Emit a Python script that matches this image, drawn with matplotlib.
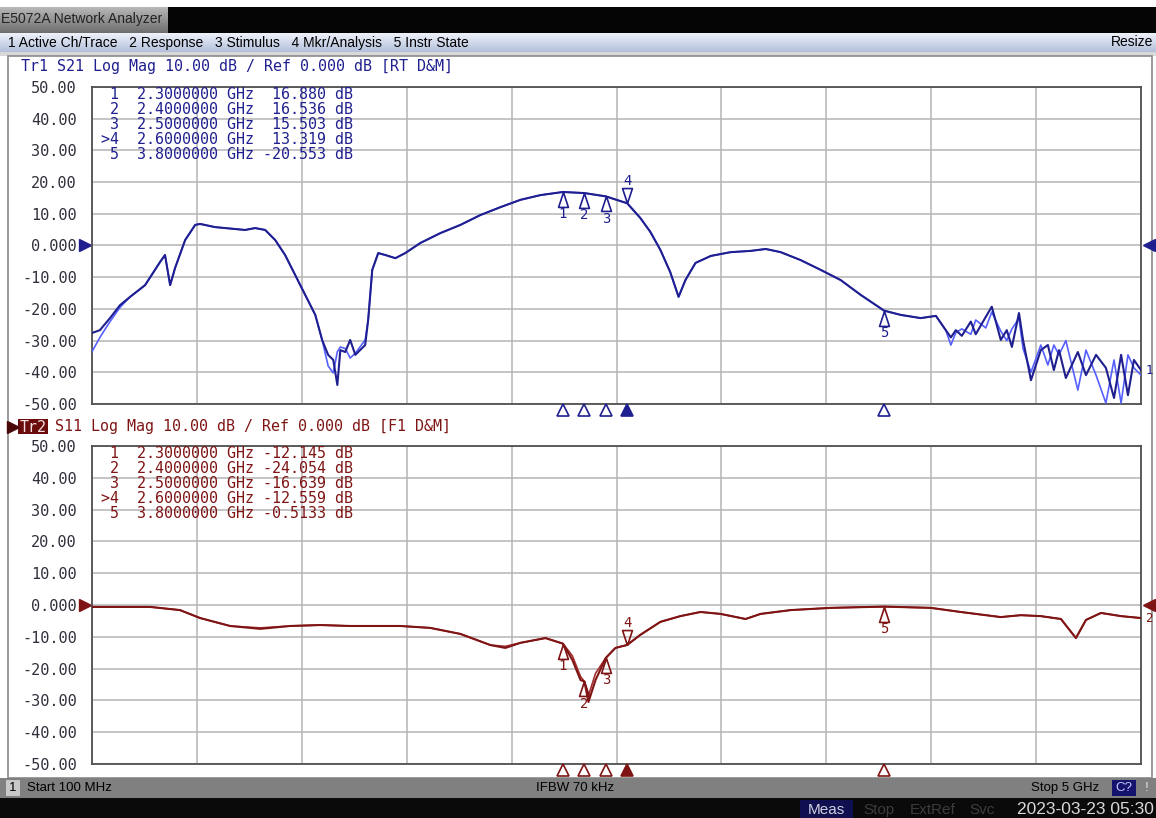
import numpy as np
import matplotlib
matplotlib.use('Agg')
import matplotlib.pyplot as plt
import matplotlib.transforms as mtransforms
from matplotlib.path import Path
from matplotlib.patches import Rectangle
from matplotlib.colors import LinearSegmentedColormap

# S21 trace, data and memory (GHz / dB)
s21_freq = [0.10, 0.137, 0.184, 0.231, 0.278, 0.348, 0.418, 0.441, 0.465, 0.488,
            0.535, 0.582, 0.605, 0.675, 0.769, 0.815, 0.862, 0.909, 0.956, 1.002,
            1.049, 1.096, 1.143, 1.175, 1.203, 1.227, 1.246, 1.260, 1.283, 1.306,
            1.330, 1.376, 1.390, 1.409, 1.437, 1.470, 1.517, 1.563, 1.634, 1.727,
            1.821, 1.914, 2.008, 2.101, 2.195, 2.30, 2.40, 2.50, 2.60, 2.661,
            2.708, 2.755, 2.801, 2.840, 2.872, 2.919, 2.990, 3.083, 3.177, 3.247,
            3.317, 3.410, 3.504, 3.597, 3.691, 3.80, 3.878, 3.971, 4.042, 4.088,
            4.112, 4.135, 4.163, 4.205, 4.228, 4.275, 4.303, 4.345, 4.373, 4.397,
            4.430, 4.449, 4.486, 4.532, 4.565, 4.593, 4.617, 4.649, 4.705, 4.743,
            4.790, 4.836, 4.874, 4.907, 4.939, 4.967, 5.00]
s21_data = [-27.6, -26.7, -22.9, -18.8, -16.2, -12.5, -5.2, -3.0, -12.5, -7.1,
            1.7, 6.5, 6.8, 5.8, 5.2, 4.9, 5.5, 4.9, 1.7, -3.0,
            -9.3, -15.6, -21.9, -29.8, -34.5, -36.1, -44.0, -33.0, -33.6, -29.8,
            -34.5, -31.4, -23.5, -7.7, -2.4, -3.0, -4.0, -2.4, 0.8, 3.9,
            6.5, 9.6, 12.1, 14.4, 15.9, 16.88, 16.54, 15.50, 13.32, 8.7,
            4.3, -1.4, -8.4, -16.2, -10.9, -5.5, -3.3, -2.1, -1.7, -1.1,
            -2.1, -4.6, -7.7, -10.9, -15.6, -20.55, -21.9, -22.9, -22.2, -26.7,
            -29.0, -26.7, -28.5, -24.0, -28.0, -22.5, -19.3, -29.8, -26.7, -32.0,
            -21.3, -29.8, -42.5, -33.0, -31.4, -39.3, -33.0, -41.8, -33.6, -40.9,
            -34.5, -38.6, -48.1, -34.5, -47.2, -36.1, -39.3]
s21_mem = [-33.5, -29.0, -24.0, -19.5, -16.2, -12.5, -5.2, -3.0, -12.5, -7.1,
           1.7, 6.5, 6.8, 5.8, 5.2, 4.9, 5.5, 4.9, 1.7, -3.0,
           -9.3, -15.6, -21.9, -29.8, -38.0, -40.2, -33.5, -32.0, -32.5, -35.5,
           -34.0, -29.8, -23.5, -7.7, -2.4, -3.0, -4.0, -2.4, 0.8, 3.9,
           6.5, 9.6, 12.1, 14.4, 15.9, 16.88, 16.54, 15.50, 13.32, 8.7,
           4.3, -1.4, -8.4, -16.2, -10.9, -5.5, -3.3, -2.1, -1.7, -1.1,
           -2.1, -4.6, -7.7, -10.9, -15.6, -20.55, -21.9, -22.9, -22.2, -26.7,
           -31.4, -27.5, -26.3, -28.0, -23.5, -26.0, -21.0, -27.0, -30.0, -26.3,
           -23.0, -32.5, -40.0, -31.4, -37.7, -31.4, -34.5, -30.0, -45.6, -33.0,
           -40.9, -49.7, -36.1, -49.7, -34.5, -38.6, -40.9]

# S11 trace, data and memory (GHz / dB)
s11_freq = [0.10, 0.371, 0.511, 0.605, 0.745, 0.886, 1.026, 1.166, 1.306, 1.540,
            1.680, 1.821, 1.961, 2.031, 2.101, 2.218, 2.30, 2.344, 2.382, 2.40,
            2.419, 2.452, 2.50, 2.545, 2.60, 2.661, 2.755, 2.848, 2.942, 3.036,
            3.153, 3.223, 3.364, 3.551, 3.80, 4.018, 4.158, 4.345, 4.439, 4.532,
            4.626, 4.696, 4.743, 4.813, 4.907, 5.00]
s11_data = [-0.6, -0.6, -1.6, -4.1, -6.6, -7.5, -6.6, -6.3, -6.6, -6.6,
            -7.2, -9.1, -12.6, -13.5, -11.9, -10.4, -12.15, -17.3, -23.6, -24.05,
            -30.5, -23.6, -16.64, -13.5, -12.56, -9.4, -5.3, -3.5, -2.2, -2.8,
            -4.4, -2.8, -1.6, -0.9, -0.51, -0.9, -2.2, -3.8, -3.2, -3.5,
            -4.4, -10.4, -4.7, -2.5, -3.5, -4.1]
s11_mem = [-0.6, -0.6, -1.6, -4.1, -6.6, -7.2, -6.6, -6.3, -6.6, -6.6,
           -7.2, -9.1, -12.6, -13.0, -11.9, -10.4, -12.15, -16.0, -22.5, -24.05,
           -28.5, -21.5, -16.64, -13.5, -12.56, -9.4, -5.3, -3.5, -2.2, -2.8,
           -4.4, -2.8, -1.6, -0.9, -0.51, -0.9, -2.2, -3.8, -3.2, -3.5,
           -4.4, -10.4, -4.7, -2.5, -3.5, -4.1]

# markers
mkr_names = ['1', '2', '3', '>4', '5']
mkr_freq = [2.3, 2.4, 2.5, 2.6, 3.8]
mkr_freq_txt = ['2.3000000', '2.4000000', '2.5000000', '2.6000000', '3.8000000']
s21_mkr = [16.880, 16.536, 15.503, 13.319, -20.553]
s21_mkr_txt = ['16.880', '16.536', '15.503', '13.319', '-20.553']
s11_mkr = [-12.145, -24.054, -16.639, -12.559, -0.5133]
s11_mkr_txt = ['-12.145', '-24.054', '-16.639', '-12.559', '-0.5133']

yticks = [50, 40, 30, 20, 10, 0, -10, -20, -30, -40, -50]
ytick_txt = ['50.00', '40.00', '30.00', '20.00', '10.00', '0.000',
             '-10.00', '-20.00', '-30.00', '-40.00', '-50.00']

W, H = 1156, 818
mono = 'DejaVu Sans Mono'
ui = ['Liberation Sans', 'DejaVu Sans']

navy = '#1f1f8f'
navy_mem = '#5560ff'
red = '#7f1414'
red_mem = '#a33030'


def box(x0, y0, x1, y1):
    return [x0 / W, 1 - y1 / H, (x1 - x0) / W, (y1 - y0) / H]


def grad(ax, x0, y0, x1, y1, c_top, c_bot):
    cm = LinearSegmentedColormap.from_list('g', [c_top, c_bot])
    ax.imshow(np.linspace(0, 1, 50)[:, None], cmap=cm, aspect='auto',
              extent=(x0, x1, y1, y0), origin='upper', zorder=1)


fig = plt.figure(figsize=(W / 100, H / 100), dpi=100)

# window chrome
bg = fig.add_axes([0, 0, 1, 1], zorder=0)
bg.set_xlim(0, W)
bg.set_ylim(H, 0)
bg.set_autoscale_on(False)
bg.axis('off')

bg.add_patch(Rectangle((0, 7), W, 26, facecolor='#050505', zorder=1))
grad(bg, 0, 7, 168, 33, '#b8b8b8', '#6e6e6e')
bg.text(1, 19, 'E5072A Network Analyzer', fontsize=10, family=ui,
        color='#222222', va='center', zorder=3)
grad(bg, 0, 33, W, 52, '#eef2fa', '#b3c0db')
bg.text(8, 42.5, '1 Active Ch/Trace   2 Response   3 Stimulus   4 Mkr/Analysis   5 Instr State',
        fontsize=10, family=ui, color='black', va='center', zorder=3)
bg.text(1153, 42.5, 'Resize', fontsize=10, family=ui, color='black',
        va='center', ha='right', zorder=3)
bg.add_patch(Rectangle((0, 52), W, 4, facecolor='#d8d8d8', zorder=1))
bg.add_patch(Rectangle((8, 56), 1144, 722, facecolor='white',
                       edgecolor='#8a8a8a', lw=1.2, zorder=1))

# status bar
bg.add_patch(Rectangle((0, 778), W, 20, facecolor='#808080', zorder=1))
bg.add_patch(Rectangle((6, 780), 14, 16, facecolor='#c8c8c8', zorder=2))
bg.text(9, 788, '1', fontsize=9.5, family=ui, va='center', zorder=3)
bg.text(27, 788, 'Start 100 MHz', fontsize=9.5, family=ui, va='center', zorder=3)
bg.text(575, 788, 'IFBW 70 kHz', fontsize=9.5, family=ui, va='center', ha='center', zorder=3)
bg.text(1099, 788, 'Stop 5 GHz', fontsize=9.5, family=ui, va='center', ha='right', zorder=3)
bg.add_patch(Rectangle((1112, 780), 24, 16, facecolor='#14146e', zorder=2))
bg.text(1124, 788, 'C?', fontsize=9.5, family=ui, color='#c8c8ff', va='center',
        ha='center', zorder=3)
bg.text(1147, 788, '!', fontsize=9.5, family=ui, color='#e0e0e0', va='center',
        ha='center', zorder=3)

bg.add_patch(Rectangle((0, 798), W, 20, facecolor='#0a0a0a', zorder=1))
bg.add_patch(Rectangle((800, 800), 53, 18, facecolor='#101050', zorder=2))
bg.text(826, 810, 'Meas', fontsize=11, family=ui, color='#d0d0e0', va='center',
        ha='center', zorder=3)
for xs, s in [(879, 'Stop'), (933, 'ExtRef'), (982, 'Svc')]:
    bg.text(xs, 810, s, fontsize=11, family=ui, color='#3c3c3c', va='center',
            ha='center', zorder=3)
bg.text(1154, 810, '2023-03-23 05:30', fontsize=12.5, family=ui, color='#d8d8d8',
        va='center', ha='right', zorder=3)

# trace headers
bg.text(21, 67, 'Tr1 S21 Log Mag 10.00 dB / Ref 0.000 dB [RT D&M]', fontsize=10.8,
        family=mono, color=navy, va='center', zorder=3)
bg.plot([12.5], [426.5], marker='>', ms=8, color='#4a0808', zorder=3)
bg.add_patch(Rectangle((18, 419), 30, 15, facecolor='#6a0c0c', zorder=2))
bg.text(19.5, 427, 'Tr2', fontsize=10.8, family=mono, color='#f2dede', va='center', zorder=3)
bg.text(55, 426, 'S11 Log Mag 10.00 dB / Ref 0.000 dB [F1 D&M]', fontsize=10.8,
        family=mono, color=red, va='center', zorder=3)

# tall triangles for the markers, apex on the trace
up_tri = Path([(0, 0), (-0.33, -1), (0.33, -1), (0, 0)])
dn_tri = Path([(0, 0), (-0.33, 1), (0.33, 1), (0, 0)])


def draw_panel(ax, freq, data, mem, col, col_mem, mkr_val, mkr_txt, trace_no):
    ax.set_zorder(2)
    ax.set_facecolor('white')
    ax.plot(freq, mem, color=col_mem, lw=1.2, zorder=3)
    ax.plot(freq, data, color=col, lw=1.5, zorder=4)
    ax.set_xlim(0.1, 5.0)
    ax.set_ylim(-50, 50)
    ax.set_xticks(np.linspace(0.1, 5.0, 11))
    ax.set_xticklabels([])
    ax.set_yticks(yticks)
    ax.set_yticklabels(ytick_txt, family=mono, fontsize=11, color='#30303c')
    ax.tick_params(length=0, pad=11)
    ax.grid(True, color='#b4b4b4', lw=1.1)
    for sp in ax.spines.values():
        sp.set_color('#505050')
        sp.set_linewidth(1.3)

    # marker readout table
    for i, (nm, ft, vt) in enumerate(zip(mkr_names, mkr_freq_txt, mkr_txt)):
        line = '%2s  %s GHz %7s dB' % (nm, ft, vt)
        ax.text(0.0085, 0.975 - i * 0.047, line, transform=ax.transAxes,
                family=mono, fontsize=10.8, color=col, va='center', zorder=5)

    # markers on the trace
    for i, (f, v) in enumerate(zip(mkr_freq, mkr_val)):
        active = mkr_names[i].startswith('>')
        num = mkr_names[i].lstrip('>')
        ax.plot([f], [v], marker=dn_tri if active else up_tri, ms=21.5,
                mfc='none', mec=col, mew=1.2, zorder=6)
        ax.annotate(num, (f, v), xytext=(0, 16 if active else -16),
                    textcoords='offset points', ha='center', va='center',
                    family=mono, fontsize=10, color=col, zorder=6)

    # marker flags under the grid
    trans = mtransforms.blended_transform_factory(ax.transData, ax.transAxes)
    for i, f in enumerate(mkr_freq):
        active = mkr_names[i].startswith('>')
        ax.plot([f], [-0.02], marker='^', ms=9, transform=trans, clip_on=False,
                mfc=col if active else 'white', mec=col, mew=1.2, zorder=6)

    # reference level pointers
    trans2 = mtransforms.blended_transform_factory(ax.transAxes, ax.transData)
    ax.plot([-0.007], [0], marker='>', ms=9, color=col, transform=trans2, clip_on=False)
    ax.plot([1.008], [0], marker='<', ms=9, color=col, transform=trans2, clip_on=False)

    ax.annotate(trace_no, (freq[-1], data[-1]), xytext=(3, 0),
                textcoords='offset points', va='center', family=mono,
                fontsize=9, color=col, annotation_clip=False)


ax1 = fig.add_axes(box(92, 87, 1141, 404))
draw_panel(ax1, s21_freq, s21_data, s21_mem, navy, navy_mem, s21_mkr, s21_mkr_txt, '1')

ax2 = fig.add_axes(box(92, 446, 1141, 764))
draw_panel(ax2, s11_freq, s11_data, s11_mem, red, red_mem, s11_mkr, s11_mkr_txt, '2')

fig.savefig('out.png', dpi=100)
